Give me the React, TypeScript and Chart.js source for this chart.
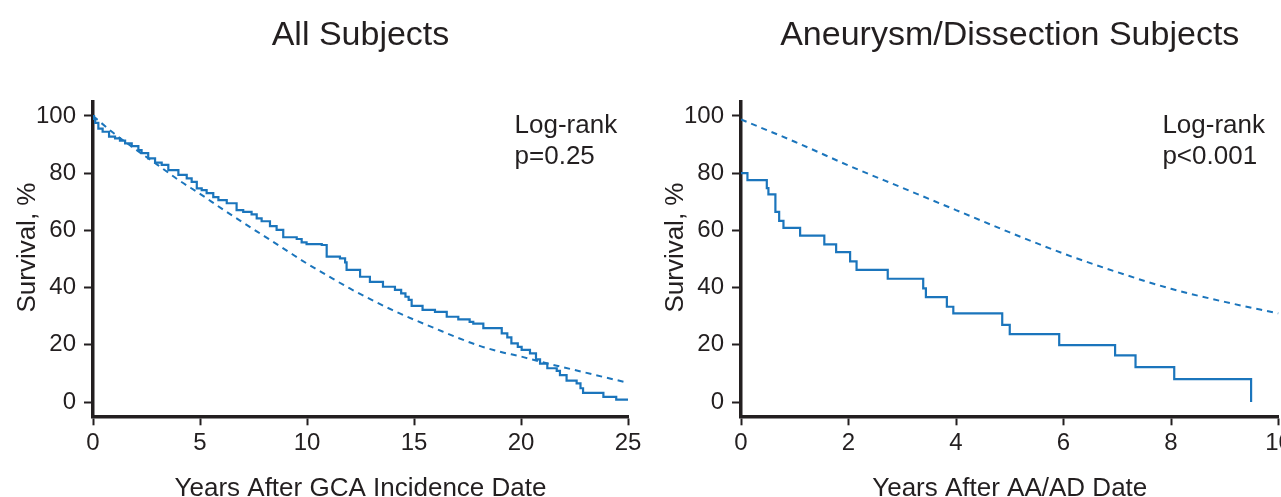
import React, { useEffect, useRef } from 'react';
import { Chart, registerables } from 'chart.js';

Chart.register(...registerables);

const FONT = "'Liberation Sans', Arial, Helvetica, sans-serif";
const INK = '#231f20';
const BLUE = '#1b75bc';

// ---------- Panel A: All Subjects ----------
const allTitle = 'All Subjects';
const allXTitle = 'Years After GCA Incidence Date';
const allXTicks = [0, 5, 10, 15, 20, 25];
const allKmTimes = [0, 0.05, 0.1, 0.25, 0.45, 0.75, 1.03, 1.26, 1.5, 1.81, 2.12, 2.27, 2.58, 2.9, 3.21, 3.52, 3.99, 4.38, 4.61, 4.85, 5.08, 5.31, 5.62, 5.86, 6.25, 6.71, 7.02, 7.41, 7.65, 7.88, 8.27, 8.58, 8.89, 9.52, 9.75, 9.98, 10.69, 10.92, 11.54, 11.78, 11.85, 12.48, 12.94, 13.55, 14.11, 14.4, 14.6, 14.75, 14.89, 15.4, 15.98, 16.53, 17.07, 17.6, 17.77, 18.24, 19.1, 19.36, 19.55, 19.85, 20.03, 20.42, 20.7, 20.89, 21.23, 21.67, 21.82, 22.13, 22.6, 22.78, 22.9, 23.85, 24.45, 25];
const allKmSurv = [100, 99, 97.6, 95.6, 94.5, 92.8, 92.2, 91.4, 90.4, 89.5, 88.1, 87, 85.2, 83.7, 82.9, 81.1, 79.4, 78.2, 77, 74.7, 74.1, 73, 71.6, 70.6, 69.5, 67.1, 66.5, 65.6, 64.2, 63.2, 61.5, 60.2, 57.6, 57.0, 55.8, 55.2, 54.9, 50.8, 50.2, 48.8, 46.2, 43.8, 42, 40.3, 39.2, 38, 36.8, 35.7, 33.6, 32.2, 31.5, 29.8, 28.9, 28, 27.4, 25.8, 24, 22.6, 20.5, 19.3, 18.2, 17, 14.9, 13.4, 11.8, 10.9, 9.4, 7.5, 6.5, 4.8, 3.2, 1.8, 0.8, 0.8];
const allExpTimes = [0, 1, 2, 3, 4, 5, 6, 7, 8, 9, 10, 11, 12, 13, 14, 15, 16, 17, 18, 19, 20, 21, 22, 23, 24, 25];
const allExpSurv = [100, 93.8, 88.3, 83, 77.6, 72.8, 67.7, 62.8, 58, 53.2, 48.4, 44, 39.7, 35.8, 32.1, 28.8, 25.7, 22.6, 19.8, 17.6, 15.9, 13.9, 12.1, 10.3, 8.5, 6.7];
const allNote = ['Log-rank', 'p=0.25'];

// ---------- Panel B: Aneurysm/Dissection Subjects ----------
const aaTitle = 'Aneurysm/Dissection Subjects';
const aaXTitle = 'Years After AA/AD Date';
const aaXTicks = [0, 2, 4, 6, 8, 10];
const aaKmTimes = [0, 0.12, 0.48, 0.51, 0.64, 0.71, 0.79, 1.1, 1.55, 1.77, 2.03, 2.15, 2.73, 3.39, 3.44, 3.83, 3.95, 4.86, 5.0, 5.92, 6.96, 7.34, 8.06, 9.49];
const aaKmSurv = [80, 77.6, 74.8, 72.6, 66.5, 63.3, 60.9, 58.2, 55.1, 52.4, 49.2, 46.2, 43.1, 39.7, 36.7, 33.3, 31, 27, 23.7, 19.9, 16.3, 12.2, 8, 0];
const aaExpTimes = [0, 1, 2, 3, 4, 5, 6, 7, 8, 9, 10];
const aaExpSurv = [98.8, 91, 82.7, 74.9, 67.1, 59.3, 51.9, 45.4, 39.6, 35, 31];
const aaNote = ['Log-rank', 'p<0.001'];

const yTicks = [0, 20, 40, 60, 80, 100];
const yTitle = 'Survival, %';

const pairs = (xs: number[], ys: number[]) => xs.map((x, i) => ({ x, y: ys[i] }));

type PanelCfg = {
  title: string;
  xTitle: string;
  xTicks: number[];
  xMax: number;
  kmT: number[];
  kmS: number[];
  exT: number[];
  exS: number[];
  note: string[];
  noteX: number;
  padRight: number;
};

const CANVAS_H = 510;

function makeTextPlugin(cfg: PanelCfg) {
  return {
    id: 'panelText',
    afterDraw(chart: any) {
      const { ctx, chartArea, scales } = chart;
      ctx.save();
      ctx.fillStyle = INK;
      ctx.font = `26px ${FONT}`;
      ctx.textAlign = 'left';
      ctx.textBaseline = 'alphabetic';
      const x = scales.x.getPixelForValue(cfg.noteX);
      const y = scales.y.getPixelForValue(94);
      cfg.note.forEach((line, i) => ctx.fillText(line, x, y + i * 31));
      ctx.translate(chartArea.left - 65, scales.y.getPixelForValue(54));
      ctx.rotate(-Math.PI / 2);
      ctx.textAlign = 'center';
      ctx.textBaseline = 'middle';
      ctx.fillText(yTitle, 0, 0);
      ctx.restore();
    },
  };
}

function Panel({ cfg, left, width }: { cfg: PanelCfg; left: number; width: number }) {
  const ref = useRef<HTMLCanvasElement>(null);
  useEffect(() => {
    if (!ref.current) return;
    const axisCommon = {
      border: { display: true, color: INK, width: 3.5 },
      grid: {
        display: true,
        drawOnChartArea: false,
        drawTicks: true,
        tickLength: 9,
        tickWidth: 2,
        tickColor: INK,
        color: INK,
      },
    };
    const chart = new Chart(ref.current, {
      type: 'line',
      data: {
        datasets: [
          {
            data: pairs(cfg.exT, cfg.exS),
            borderColor: BLUE,
            borderWidth: 2,
            borderDash: [6, 5],
            pointRadius: 0,
            cubicInterpolationMode: 'monotone',
            fill: false,
          },
          {
            data: pairs(cfg.kmT, cfg.kmS),
            borderColor: BLUE,
            borderWidth: 2.2,
            stepped: true,
            pointRadius: 0,
            fill: false,
          },
        ],
      },
      options: {
        animation: false,
        responsive: false,
        devicePixelRatio: 1,
        layout: { padding: { left: 0, right: cfg.padRight, top: 0, bottom: 0 } },
        plugins: {
          legend: { display: false },
          tooltip: { enabled: false },
          title: {
            display: true,
            text: cfg.title,
            fullSize: false,
            color: INK,
            font: { family: FONT, size: 34, weight: 'normal' },
            padding: { top: 14.8, bottom: 46.1 },
          },
        },
        scales: {
          x: {
            type: 'linear',
            min: 0,
            max: cfg.xMax,
            afterBuildTicks: (s: any) => {
              s.ticks = cfg.xTicks.map((v) => ({ value: v }));
            },
            afterFit: (s: any) => {
              s.height = CANVAS_H - 416.3;
            },
            ...axisCommon,
            ticks: { color: INK, font: { family: FONT, size: 24 }, padding: 4, maxRotation: 0, autoSkip: false },
            title: {
              display: true,
              text: cfg.xTitle,
              color: INK,
              font: { family: FONT, size: 26 },
              padding: { top: 0, bottom: 5.4 },
            },
          },
          y: {
            type: 'linear',
            min: -5,
            max: 105,
            afterBuildTicks: (s: any) => {
              s.ticks = yTicks.map((v) => ({ value: v }));
            },
            afterFit: (s: any) => {
              s.width = 93;
            },
            ...axisCommon,
            ticks: { color: INK, font: { family: FONT, size: 24 }, padding: 8 },
          },
        },
      },
      plugins: [makeTextPlugin(cfg)],
    } as any);
    return () => chart.destroy();
  }, []);
  return (
    <canvas
      ref={ref}
      width={width}
      height={CANVAS_H}
      style={{ position: 'absolute', left, top: 0, width, height: CANVAS_H }}
    />
  );
}

const allCfg: PanelCfg = {
  title: allTitle,
  xTitle: allXTitle,
  xTicks: allXTicks,
  xMax: 25,
  kmT: allKmTimes,
  kmS: allKmSurv,
  exT: allExpTimes,
  exS: allExpSurv,
  note: allNote,
  noteX: 19.7,
  padRight: 32,
};

const aaCfg: PanelCfg = {
  title: aaTitle,
  xTitle: aaXTitle,
  xTicks: aaXTicks,
  xMax: 10,
  kmT: aaKmTimes,
  kmS: aaKmSurv,
  exT: aaExpTimes,
  exS: aaExpSurv,
  note: aaNote,
  noteX: 7.84,
  padRight: 29.5,
};

export default function App() {
  return (
    <div
      style={{
        position: 'fixed',
        left: 0,
        top: 0,
        width: 1281,
        height: 497,
        overflow: 'hidden',
        background: '#ffffff',
      }}
    >
      <Panel cfg={allCfg} left={0} width={660} />
      <Panel cfg={aaCfg} left={648} width={660} />
    </div>
  );
}
